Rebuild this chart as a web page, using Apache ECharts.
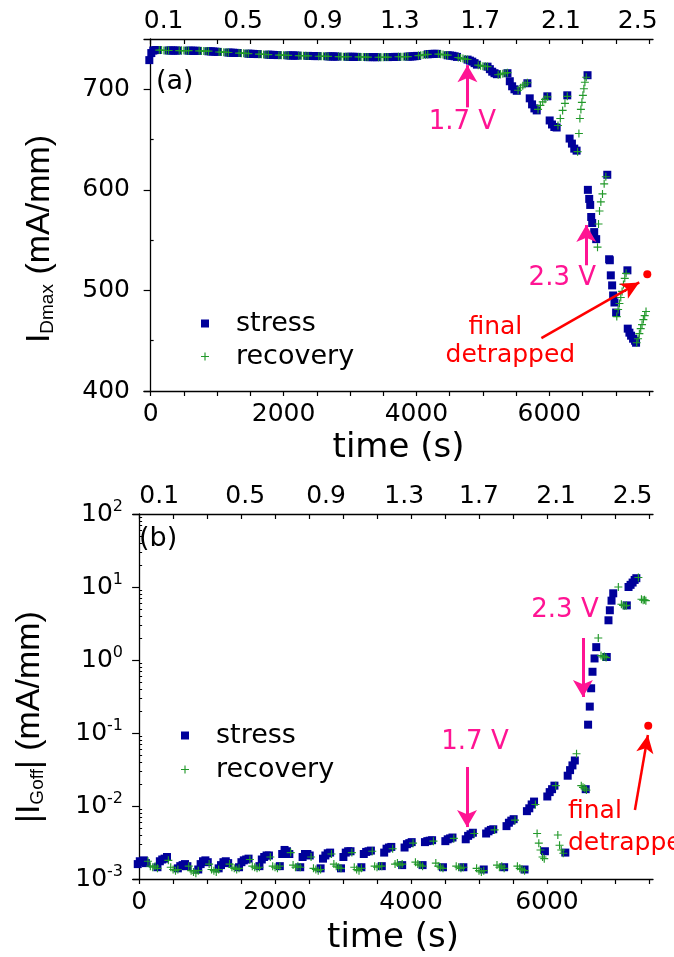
<!DOCTYPE html>
<html>
<head>
<meta charset="utf-8">
<script src="https://cdn.jsdelivr.net/npm/echarts@6.0.0/dist/echarts.min.js"></script>
<style>
html, body { margin: 0; padding: 0; background: #fff; }
#chart { width: 674px; height: 957px; }
</style>
</head>
<body>
<div id="chart"></div>
<script>
// ---- data (time in s) ----
// (a) I_Dmax in mA/mm
const stressA = [
  [-20,729],[10,736],[40,738.5],[70,739],[100,739],
  [270,738.6],[305,738.6],[340,738.5],[375,738.5],[410,738.5],
  [570,738.4],[605,738.4],[640,738.3],[675,738.3],[710,738.2],
  [870,737.8],[905,737.7],[940,737.5],[975,737.4],[1010,737.2],
  [1170,736.5],[1205,736.4],[1240,736.3],[1275,736.2],[1310,736.1],
  [1470,735.4],[1505,735.3],[1540,735.2],[1575,735.1],[1610,735],
  [1770,734.4],[1805,734.3],[1840,734.2],[1875,734.1],[1910,734],
  [2070,733.7],[2105,733.6],[2140,733.6],[2175,733.5],[2210,733.5],
  [2370,733.2],[2405,733.1],[2440,733.1],[2475,733],[2510,733],
  [2670,732.7],[2705,732.7],[2740,732.6],[2775,732.6],[2810,732.5],
  [2970,732.3],[3005,732.3],[3040,732.3],[3075,732.2],[3110,732.2],
  [3270,732],[3305,732],[3340,732],[3375,732],[3410,731.9],
  [3570,732],[3605,732.1],[3640,732.1],[3675,732.2],[3710,732.2],
  [3870,732.5],[3905,732.6],[3940,732.7],[3975,732.9],[4010,733.2],
  [4170,734.8],[4205,735],[4240,735.2],[4275,735.3],[4310,735.2],
  [4470,733.8],[4505,733.6],[4540,733.3],[4575,732.8],[4610,732.2],
  [4770,729.5],[4805,728.5],[4840,727.5],[4875,726],[4910,724.5],
  [5070,722.5],[5105,720],[5140,717.5],[5175,716],[5210,715],
  [5370,716],[5405,708],[5440,703],[5475,700],[5510,698.5],
  [5670,706],[5705,691],[5740,685],[5775,681],[5810,679],
  [5970,693],[6005,669],[6040,665],[6075,662.5],[6110,662],
  [6270,694],[6305,651],[6340,646],[6375,641],[6410,639],
  [6575,714],[6580,600],[6600,591],[6615,585],[6630,573],[6645,567],[6675,558],[6705,551],
  [6872,615],[6900,531],[6910,530],[6925,515],[6945,505],[6960,495],[6980,488],[7005,478],
  [7175,520],[7180,462],[7205,458],[7230,455],[7260,452],[7290,450],[7305,448]
];
const recoveryA = [
  [130,739],[165,739],[200,738.6],[235,738.6],[270,738.6],
  [430,738.5],[465,738.5],[500,738.5],[535,738.5],[570,738.4],
  [730,738.2],[765,738.1],[800,738.1],[835,738],[870,737.9],
  [1030,737.1],[1065,737],[1100,736.9],[1135,736.8],[1170,736.6],
  [1330,736],[1365,735.9],[1400,735.8],[1435,735.7],[1470,735.5],
  [1630,734.9],[1665,734.8],[1700,734.7],[1735,734.6],[1770,734.5],
  [1930,733.9],[1965,733.9],[2000,733.8],[2035,733.8],[2070,733.7],
  [2230,733.4],[2265,733.4],[2300,733.3],[2335,733.3],[2370,733.2],
  [2530,732.9],[2565,732.9],[2600,732.8],[2635,732.8],[2670,732.7],
  [2830,732.5],[2865,732.5],[2900,732.4],[2935,732.4],[2970,732.4],
  [3130,732.2],[3165,732.1],[3200,732.1],[3235,732.1],[3270,732],
  [3430,731.9],[3465,731.9],[3500,731.9],[3535,732],[3570,732],
  [3730,732.3],[3765,732.3],[3800,732.4],[3835,732.4],[3870,732.5],
  [4030,733.5],[4065,733.8],[4100,734.1],[4135,734.4],[4170,734.7],
  [4330,735],[4365,734.8],[4400,734.5],[4435,734.2],[4470,733.9],
  [4630,731.6],[4665,731],[4700,730.5],[4735,730],[4770,729.6],
  [4930,724],[4965,723.5],[5000,723],[5035,722.8],[5070,722.6],
  [5230,714.5],[5265,715],[5300,715.5],[5335,716],[5370,716.5],
  [5530,699],[5565,701.5],[5600,703.5],[5635,705],[5670,706.5],
  [5830,680],[5865,684],[5900,687.5],[5935,690],[5970,692.5],
  [6130,664],[6165,671],[6200,679],[6235,686],[6270,693],
  [6425,638],[6445,656],[6460,671],[6475,680],[6490,687],[6505,694],[6520,700.5],[6535,707],[6555,712],
  [6725,543],[6740,566],[6755,579],[6775,588],[6800,596],[6825,606],[6850,613],
  [7015,474],[7035,481],[7055,487],[7075,493],[7095,499],[7115,506],[7135,512],[7155,517],
  [7315,448],[7335,452],[7355,457],[7375,462],[7395,466],[7415,471],[7435,475],[7455,479]
];
const finalA = [[7474, 516]];

// (b) |I_Goff| in mA/mm
const stressB = [
  [-20,1.6e-3],[10,1.75e-3],[40,1.7e-3],[70,1.8e-3],[100,1.65e-3],
  [270,1.45e-3],[305,1.75e-3],[340,1.85e-3],[375,1.9e-3],[410,2.0e-3],
  [570,1.4e-3],[605,1.5e-3],[640,1.55e-3],[675,1.6e-3],[710,1.5e-3],
  [870,1.35e-3],[905,1.6e-3],[940,1.75e-3],[975,1.8e-3],[1010,1.7e-3],
  [1170,1.4e-3],[1205,1.55e-3],[1240,1.7e-3],[1275,1.75e-3],[1310,1.65e-3],
  [1470,1.45e-3],[1505,1.7e-3],[1540,1.8e-3],[1575,1.85e-3],[1610,1.9e-3],
  [1770,1.5e-3],[1805,1.85e-3],[1840,2.0e-3],[1875,2.1e-3],[1910,2.1e-3],
  [2070,1.5e-3],[2105,2.2e-3],[2140,2.5e-3],[2175,2.4e-3],[2210,2.2e-3],
  [2370,1.45e-3],[2405,2.0e-3],[2440,2.2e-3],[2475,2.2e-3],[2510,2.1e-3],
  [2670,1.4e-3],[2705,1.9e-3],[2740,2.1e-3],[2775,2.25e-3],[2810,2.3e-3],
  [2970,1.4e-3],[3005,2.0e-3],[3040,2.3e-3],[3075,2.4e-3],[3110,2.4e-3],
  [3270,1.45e-3],[3305,2.2e-3],[3340,2.35e-3],[3375,2.4e-3],[3410,2.45e-3],
  [3570,1.5e-3],[3605,2.3e-3],[3640,2.6e-3],[3675,2.7e-3],[3710,2.75e-3],
  [3870,1.55e-3],[3905,2.7e-3],[3940,3.0e-3],[3975,3.1e-3],[4010,3.2e-3],
  [4170,1.55e-3],[4205,3.2e-3],[4240,3.3e-3],[4275,3.35e-3],[4310,3.4e-3],
  [4470,1.45e-3],[4505,3.3e-3],[4540,3.5e-3],[4575,3.6e-3],[4610,3.7e-3],
  [4770,1.45e-3],[4805,3.5e-3],[4840,3.9e-3],[4875,4.1e-3],[4910,4.3e-3],
  [5070,1.35e-3],[5105,4.2e-3],[5140,4.5e-3],[5175,4.7e-3],[5210,4.8e-3],
  [5370,1.45e-3],[5405,5.3e-3],[5440,5.9e-3],[5475,6.3e-3],[5510,6.6e-3],
  [5670,1.35e-3],[5705,8.5e-3],[5740,9.3e-3],[5775,1.05e-2],[5810,1.15e-2],
  [5970,2.4e-3],[6005,1.35e-2],[6040,1.55e-2],[6075,1.7e-2],[6110,1.9e-2],
  [6270,2.3e-3],[6305,2.6e-2],[6340,3.1e-2],[6375,3.6e-2],[6410,4.2e-2],
  [6570,1.7e-2],[6605,0.13],[6630,0.23],[6650,0.41],[6670,0.69],[6700,1.05],[6725,1.5],
  [6880,1.1],[6905,3.5],[6925,4.8],[6950,6.5],[6975,8.2],
  [7175,5.6],[7200,10],[7230,10.7],[7260,11.5],[7290,12.5],[7315,13.2]
];
const recoveryB = [
  [130,1.75e-3],[165,1.5e-3],[200,1.45e-3],[235,1.5e-3],[270,1.4e-3],
  [430,1.8e-3],[465,1.45e-3],[500,1.35e-3],[535,1.3e-3],[570,1.35e-3],
  [730,1.5e-3],[765,1.3e-3],[800,1.25e-3],[835,1.2e-3],[870,1.3e-3],
  [1030,1.6e-3],[1065,1.35e-3],[1100,1.3e-3],[1135,1.25e-3],[1170,1.35e-3],
  [1330,1.6e-3],[1365,1.45e-3],[1400,1.4e-3],[1435,1.35e-3],[1470,1.4e-3],
  [1630,1.85e-3],[1665,1.5e-3],[1700,1.45e-3],[1735,1.4e-3],[1770,1.45e-3],
  [1930,2.0e-3],[1965,1.5e-3],[2000,1.45e-3],[2035,1.4e-3],[2070,1.5e-3],
  [2230,2.3e-3],[2265,1.55e-3],[2300,1.45e-3],[2335,1.5e-3],[2370,1.45e-3],
  [2530,2.0e-3],[2565,1.4e-3],[2600,1.35e-3],[2635,1.3e-3],[2670,1.35e-3],
  [2830,2.2e-3],[2865,1.6e-3],[2900,1.5e-3],[2935,1.45e-3],[2970,1.4e-3],
  [3130,2.3e-3],[3165,1.45e-3],[3200,1.35e-3],[3235,1.3e-3],[3270,1.4e-3],
  [3430,2.4e-3],[3465,1.5e-3],[3500,1.45e-3],[3535,1.5e-3],[3570,1.5e-3],
  [3730,2.6e-3],[3765,1.6e-3],[3800,1.65e-3],[3835,1.55e-3],[3870,1.6e-3],
  [4030,3.1e-3],[4065,1.7e-3],[4100,1.6e-3],[4135,1.55e-3],[4170,1.5e-3],
  [4330,3.3e-3],[4365,1.65e-3],[4400,1.5e-3],[4435,1.45e-3],[4470,1.4e-3],
  [4630,3.6e-3],[4665,1.5e-3],[4700,1.45e-3],[4735,1.4e-3],[4770,1.45e-3],
  [4930,4.2e-3],[4965,1.4e-3],[5000,1.3e-3],[5035,1.25e-3],[5070,1.3e-3],
  [5230,4.7e-3],[5265,1.55e-3],[5300,1.45e-3],[5335,1.5e-3],[5370,1.4e-3],
  [5530,6.4e-3],[5565,1.5e-3],[5600,1.4e-3],[5635,1.35e-3],[5670,1.3e-3],
  [5830,1.05e-2],[5855,4.2e-3],[5880,3.1e-3],[5905,2.5e-3],[5935,2.0e-3],[5960,1.9e-3],
  [6130,1.9e-2],[6160,4.0e-3],[6185,2.9e-3],[6210,2.5e-3],[6240,2.25e-3],
  [6435,5.2e-2],[6505,1.9e-2],[6530,1.8e-2],[6555,1.75e-2],[6580,1.65e-2],
  [6755,2.0],[6795,1.15],[6820,1.1],[6845,1.12],[6870,1.08],
  [7050,10],[7095,5.8],[7120,5.6],[7145,5.5],[7170,5.6],
  [7345,13.5],[7390,6.8],[7415,6.6],[7435,6.7],[7455,6.5]
];
const finalB = [[7490, 0.126]];

// axis ticks / labels
const timeTicks = [0,500,1000,1500,2000,2500,3000,3500,4000,4500,5000,5500,6000,6500,7000,7500];
const timeLabels = [0,2000,4000,6000];
const voltLabels = ['0.1','0.5','0.9','1.3','1.7','2.1','2.5'];
const voltTimesA = [195,1390,2590,3750,4960,6175,7330];
const voltTimesB = [295,1560,2750,3900,5000,6135,7260];
const idTicks = [400,500,600,700];
const idMinorTicks = [450,550,650];
const igDecades = [0.001,0.01,0.1,1,10,100];
const igMinorTicks = [
  0.002,0.003,0.004,0.005,0.006,0.007,0.008,0.009,
  0.02,0.03,0.04,0.05,0.06,0.07,0.08,0.09,
  0.2,0.3,0.4,0.5,0.6,0.7,0.8,0.9,
  2,3,4,5,6,7,8,9,
  20,30,40,50,60,70,80,90
];

// horizontal text in the original is a stretched Arial, DejaVu Sans has about the same width
const FONT = '"DejaVu Sans", sans-serif';
const FONT_V = '"Liberation Sans", Arial, sans-serif';
const BLUE = '#00009a';
const GREEN = '#22992a';
const PINK = '#ff1493';
const RED = '#ff0000';
const PLUS = 'path://M3,0H4V3H7V4H4V7H3V4H0V3H3Z';

const chart = echarts.init(document.getElementById('chart'), null, { renderer: 'canvas' });

const axisLineStyle = { show: true, lineStyle: { color: '#000', width: 1.3 } };

function bottomAxis(gridIndex, min) {
  return {
    type: 'value', gridIndex, position: 'bottom', min, max: 7560,
    axisLine: axisLineStyle,
    axisTick: { show: true, customValues: timeTicks, length: 5, lineStyle: { color: '#000', width: 1.2 } },
    axisLabel: {
      customValues: timeLabels, color: '#000', fontSize: 25, fontFamily: FONT,
      margin: 11, formatter: (v) => String(v)
    },
    splitLine: { show: false },
    name: 'time (s)', nameLocation: 'middle', nameGap: gridIndex === 0 ? 40 : 42,
    nameTextStyle: { color: '#000', fontSize: 34, fontFamily: FONT }
  };
}

function topAxis(gridIndex, min, voltTimes) {
  return {
    type: 'value', gridIndex, position: 'top', min, max: 7560,
    axisLine: axisLineStyle,
    axisTick: { show: true, inside: true, customValues: timeTicks, length: 5, lineStyle: { color: '#000', width: 1.2 } },
    axisLabel: {
      customValues: voltTimes, color: '#000', fontSize: 25, fontFamily: FONT, margin: 5,
      formatter: (v) => {
        const i = voltTimes.indexOf(v);
        return i >= 0 ? voltLabels[i] : '';
      }
    },
    splitLine: { show: false }
  };
}

function arrow(p0, p1, color, width, size) {
  return [
    { coord: p0, symbol: 'none' },
    { coord: p1, symbol: 'arrow', symbolSize: size, lineStyle: { color, width, type: 'solid' } }
  ];
}

function note(coord, text, color, align, size) {
  return {
    coord, symbol: 'circle', symbolSize: 0,
    itemStyle: { color: 'transparent' },
    label: {
      show: true, position: 'inside', formatter: text, color,
      fontSize: size || 26, fontFamily: FONT, align: align || 'center'
    }
  };
}

const option = {
  animation: false,
  backgroundColor: '#fff',
  grid: [
    { left: 144, top: 39, width: 509, height: 352 },
    { left: 133, top: 514, width: 520, height: 365 }
  ],
  xAxis: [
    bottomAxis(0, -100),
    topAxis(0, -100, voltTimesA),
    bottomAxis(1, -90),
    topAxis(1, -90, voltTimesB)
  ],
  yAxis: [
    {
      type: 'value', gridIndex: 0, min: 400, max: 750,
      axisLine: axisLineStyle,
      axisTick: { show: true, customValues: idTicks, length: 7, lineStyle: { color: '#000', width: 1.2 } },
      axisLabel: { customValues: idTicks, color: '#000', fontSize: 25, fontFamily: FONT, margin: 14 },
      splitLine: { show: false }
    },
    {
      type: 'value', gridIndex: 0, min: 400, max: 750,
      axisLine: { show: false },
      axisTick: { show: true, customValues: idMinorTicks, length: 3, lineStyle: { color: '#000', width: 1.2 } },
      axisLabel: { show: false },
      splitLine: { show: false }
    },
    {
      type: 'log', logBase: 10, gridIndex: 1, min: 0.001, max: 100,
      axisLine: axisLineStyle,
      axisTick: { show: true, customValues: igDecades, length: 7, lineStyle: { color: '#000', width: 1.2 } },
      axisLabel: {
        customValues: igDecades, margin: 10,
        formatter: (v) => '{b|10}{s|' + Math.round(Math.log10(v)) + '}',
        rich: {
          b: { fontSize: 25, fontFamily: FONT, color: '#000', lineHeight: 30, verticalAlign: 'middle' },
          s: { fontSize: 16, fontFamily: FONT, color: '#000', lineHeight: 16, verticalAlign: 'top' }
        }
      },
      splitLine: { show: false }
    },
    {
      type: 'log', logBase: 10, gridIndex: 1, min: 0.001, max: 100,
      axisLine: { show: false },
      axisTick: { show: true, customValues: igMinorTicks, length: 3, lineStyle: { color: '#000', width: 1 } },
      axisLabel: { show: false },
      splitLine: { show: false }
    }
  ],
  legend: [
    {
      data: ['stress', 'recovery'], orient: 'vertical', left: 196, top: 305,
      itemWidth: 8, itemHeight: 8, itemGap: 6, selectedMode: false,
      textStyle: { color: '#000', fontSize: 27, fontFamily: FONT, lineHeight: 26, padding: [0, 0, 0, 22] }
    },
    {
      data: ['stress', 'recovery'], orient: 'vertical', left: 176, top: 717,
      itemWidth: 8, itemHeight: 8, itemGap: 7, selectedMode: false,
      textStyle: { color: '#000', fontSize: 27, fontFamily: FONT, lineHeight: 26, padding: [0, 0, 0, 22] }
    }
  ],
  graphic: [
    { type: 'text', left: 156, top: 68, style: { text: '(a)', font: '27px ' + FONT, fill: '#000' } },
    { type: 'text', left: 139, top: 525, style: { text: '(b)', font: '27px ' + FONT, fill: '#000' } },
    {
      type: 'text', x: 40, y: 239, rotation: Math.PI / 2,
      style: {
        text: '{m|I}{s|Dmax}{m| (mA/mm)}', align: 'center', verticalAlign: 'middle',
        rich: {
          m: { fontSize: 34, fontFamily: FONT_V, fill: '#000', lineHeight: 34, verticalAlign: 'top' },
          s: { fontSize: 19, fontFamily: FONT_V, fill: '#000', lineHeight: 19, padding: [30, 0, 0, 0], verticalAlign: 'bottom' }
        }
      }
    },
    {
      type: 'text', x: 30, y: 717, rotation: Math.PI / 2,
      style: {
        text: '{m||I}{s|Goff}{m|| (mA/mm)}', align: 'center', verticalAlign: 'middle',
        rich: {
          m: { fontSize: 34, fontFamily: FONT_V, fill: '#000', lineHeight: 34, verticalAlign: 'top' },
          s: { fontSize: 19, fontFamily: FONT_V, fill: '#000', lineHeight: 19, padding: [30, 0, 0, 0], verticalAlign: 'bottom' }
        }
      }
    }
  ],
  series: [
    {
      name: 'stress', type: 'scatter', xAxisIndex: 0, yAxisIndex: 0, data: stressA,
      symbol: 'rect', symbolSize: 8, itemStyle: { color: BLUE, opacity: 1 }, z: 2
    },
    {
      name: 'recovery', type: 'scatter', xAxisIndex: 0, yAxisIndex: 0, data: recoveryA,
      symbol: PLUS, symbolSize: 8, itemStyle: { color: GREEN, opacity: 1 }, z: 3
    },
    {
      name: 'final', type: 'scatter', xAxisIndex: 0, yAxisIndex: 0, data: finalA,
      symbol: 'circle', symbolSize: 8, itemStyle: { color: RED, opacity: 1 }, z: 4,
      markLine: {
        silent: true, animation: false, label: { show: false }, emphasis: { disabled: true },
        data: [
          arrow([4767, 682], [4767, 724], PINK, 3, [15, 17]),
          arrow([6556, 525], [6556, 565], PINK, 3, [15, 17]),
          arrow([5880, 452.6], [7353, 508], RED, 2.5, [13, 18])
        ]
      },
      markPoint: {
        silent: true, animation: false,
        data: [
          note([4692, 667], '1.7 V', PINK),
          note([6195, 512], '2.3 V', PINK),
          note([5188, 463.5], 'final', RED, 'center', 25),
          note([5414, 435.7], 'detrapped', RED, 'center', 25)
        ]
      }
    },
    {
      name: 'stress', type: 'scatter', xAxisIndex: 2, yAxisIndex: 2, data: stressB,
      symbol: 'rect', symbolSize: 8, itemStyle: { color: BLUE, opacity: 1 }, z: 2
    },
    {
      name: 'recovery', type: 'scatter', xAxisIndex: 2, yAxisIndex: 2, data: recoveryB,
      symbol: PLUS, symbolSize: 8, itemStyle: { color: GREEN, opacity: 1 }, z: 3
    },
    {
      name: 'final', type: 'scatter', xAxisIndex: 2, yAxisIndex: 2, data: finalB,
      symbol: 'circle', symbolSize: 8, itemStyle: { color: RED, opacity: 1 }, z: 4,
      markLine: {
        silent: true, animation: false, label: { show: false }, emphasis: { disabled: true },
        data: [
          arrow([4824, 0.0342], [4824, 0.00515], PINK, 3, [15, 17]),
          arrow([6529, 2.0], [6529, 0.311], PINK, 3, [15, 17]),
          arrow([7294, 0.0088], [7485, 0.094], RED, 2.5, [13, 18])
        ]
      },
      markPoint: {
        silent: true, animation: false,
        data: [
          note([4941, 0.0753], '1.7 V', PINK),
          note([6265, 4.84], '2.3 V', PINK),
          note([6309, 0.0083], 'final', RED, 'left', 25),
          note([6309, 0.0031], 'detrapped', RED, 'left', 25)
        ]
      }
    }
  ]
};

chart.setOption(option);
</script>
</body>
</html>
